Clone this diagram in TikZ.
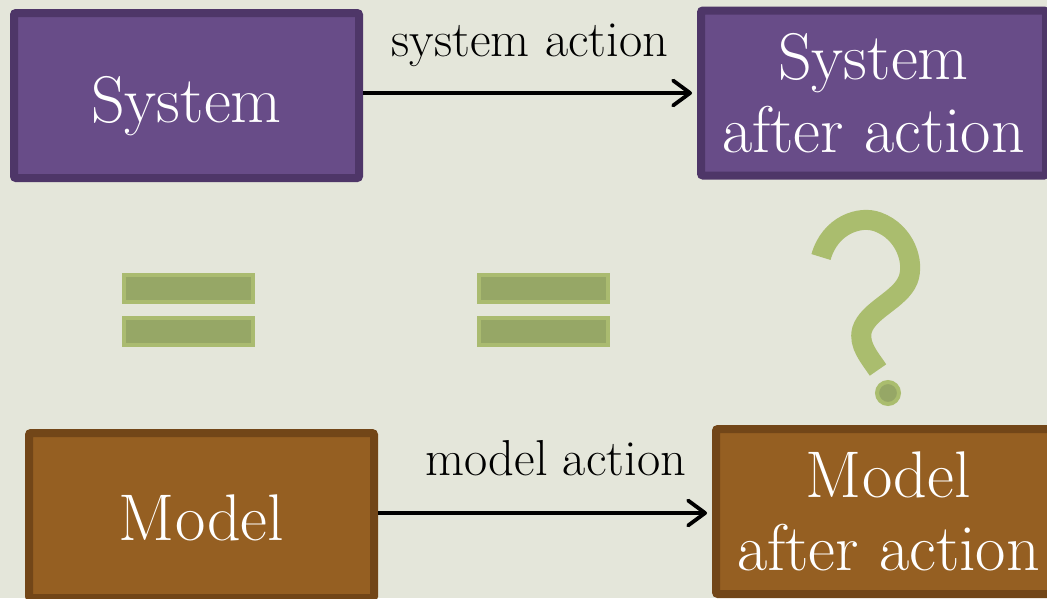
\documentclass[tikz,border=0pt]{standalone}
\usepackage{fontspec}
\usetikzlibrary{arrows.meta}
\definecolor{bg}{RGB}{228,230,218}
\definecolor{purfill}{RGB}{104,76,136}
\definecolor{purline}{RGB}{78,54,104}
\definecolor{brnfill}{RGB}{149,95,34}
\definecolor{brnline}{RGB}{114,70,24}
\definecolor{grnlight}{RGB}{170,187,112}
\definecolor{grndark}{RGB}{150,167,102}
\definecolor{qmark}{RGB}{170,189,110}
\tikzset{
  box/.style={line width=8pt, rounded corners=2pt, minimum width=345pt, minimum height=165pt,
    inner sep=0pt, text=white, font=\fontsize{66}{73}\selectfont},
  sysbox/.style={box, fill=purfill, draw=purline},
  modbox/.style={box, fill=brnfill, draw=brnline},
  act/.style={line width=3.8pt, -{Straight Barb[length=17pt,width=25pt,round]}, shorten >=5pt},
  actlabel/.style={anchor=base, font=\fontsize{50.5}{54}\selectfont, inner sep=0pt, text=black},
  eqbar/.style={fill=grndark, draw=grnlight, line width=4pt},
}
\begin{document}
\begin{tikzpicture}[x=1pt,y=-1pt]
\fill[bg] (0,0) rectangle (1047,598);
\useasboundingbox (0,0) rectangle (1047,598);

% boxes
\node[sysbox, text height=53pt, text depth=0pt] (sys) at (186.5,95.5) {System};
\node[sysbox, align=center] (sysafter) at (873.5,93) {System\\after action};
\node[modbox, text height=49pt, text depth=0pt] (model) at (201.5,515.5) {Model};
\node[modbox, align=center] (modafter) at (888.5,511.5) {Model\\after action};

% arrows
\draw[act] (sys.east |- sysafter.west) -- (sysafter.west)
  node[actlabel, pos=0.5, yshift=37pt] (sysact) {system action};
\draw[act] ([yshift=2.5pt]model.east) coordinate (m1) -- (m1 -| modafter.west)
  node[actlabel, pos=0.532, yshift=38pt] (modact) {model action};

% equal signs
\filldraw[eqbar] (124,275) rectangle (253,302);
\filldraw[eqbar] (124,318) rectangle (253,345);
\filldraw[eqbar] (479,275) rectangle (608,302);
\filldraw[eqbar] (479,318) rectangle (608,345);

% question mark
\draw[qmark, line width=20pt]
  (821,257) .. controls (830,225) and (860,215) .. (878,222)
  .. controls (905,232) and (915,262) .. (908,280)
  .. controls (900,300) and (868,310) .. (862,330)
  .. controls (858,345) and (870,358) .. (878,370);
\filldraw[fill=grndark, draw=qmark, line width=4pt] (888,393) circle (11pt);
\end{tikzpicture}
\end{document}
